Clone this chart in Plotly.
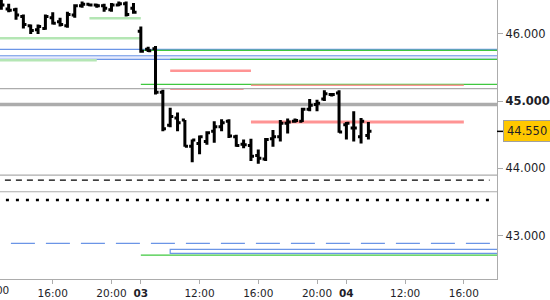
import pandas as pd
import plotly.graph_objects as go

# ---------------- data ----------------
sessions = [("2024-07-02 12:30", "2024-07-02 21:30"),
            ("2024-07-03 08:00", "2024-07-03 21:30"),
            ("2024-07-04 08:00", "2024-07-04 09:30")]
bar_time = []
for a, b in sessions:
    bar_time += list(pd.date_range(a, b, freq="30min"))

bar_open = [46.45, 46.37, 46.36, 46.26, 46.12, 46.06, 46.08, 46.24, 46.18, 46.12,
            46.28, 46.42, 46.44, 46.43, 46.42, 46.36, 46.43, 46.45, 46.38,
            46.04, 45.77, 45.78, 45.13, 44.64, 44.75, 44.72, 44.33, 44.37, 44.40,
            44.55, 44.62, 44.70, 44.47, 44.36, 44.34, 44.19, 44.14, 44.44, 44.47,
            44.67, 44.70, 44.70, 44.88, 44.95, 45.03, 45.10, 45.12,
            44.65, 44.60, 44.47, 44.49]
bar_high = [46.56, 46.45, 46.39, 46.29, 46.14, 46.14, 46.29, 46.32, 46.24, 46.33,
            46.44, 46.48, 46.45, 46.45, 46.45, 46.46, 46.48, 46.48, 46.46,
            46.11, 45.81, 45.82, 45.17, 44.90, 44.83, 44.72, 44.43, 44.49, 44.55,
            44.70, 44.73, 44.73, 44.50, 44.43, 44.44, 44.28, 44.45, 44.57, 44.72,
            44.74, 44.74, 44.90, 45.03, 45.02, 45.16, 45.12, 45.16,
            44.69, 44.85, 44.75, 44.69]
bar_low = [46.36, 46.32, 46.21, 46.08, 46.00, 46.00, 46.06, 46.14, 46.11, 46.09,
           46.24, 46.39, 46.41, 46.39, 46.33, 46.33, 46.41, 46.26, 46.30,
           45.72, 45.73, 45.10, 44.55, 44.61, 44.55, 44.32, 44.09, 44.21, 44.35,
           44.38, 44.55, 44.45, 44.32, 44.30, 44.11, 44.07, 44.11, 44.32, 44.40,
           44.52, 44.68, 44.69, 44.85, 44.85, 45.00, 45.07, 44.53,
           44.43, 44.40, 44.37, 44.43]
bar_close = [46.43, 46.35, 46.28, 46.14, 46.05, 46.11, 46.26, 46.16, 46.14, 46.29,
             46.42, 46.44, 46.43, 46.42, 46.38, 46.43, 46.45, 46.29, 46.32,
             45.74, 45.75, 45.13, 44.59, 44.77, 44.68, 44.33, 44.42, 44.47, 44.53,
             44.62, 44.68, 44.48, 44.34, 44.35, 44.18, 44.15, 44.43, 44.47, 44.67,
             44.69, 44.71, 44.88, 44.94, 44.97, 45.11, 45.10, 44.54,
             44.67, 44.60, 44.70, 44.55]
last_price = 44.550

LEFT, RIGHT = "2024-07-02 06:00", "2024-07-04 22:00"
level_price = [46.231, 45.934, 45.607, 45.770, 45.755, 45.622, 45.452, 45.250, 45.235,
               45.175, 45.187, 44.949, 44.689, 43.900, 43.826, 43.652, 43.529, 42.885, 42.710]
level_from = ["2024-07-02 18:30", LEFT, LEFT, LEFT, "2024-07-03 08:00", "2024-07-03 10:00",
              "2024-07-03 10:00", "2024-07-03 08:00", "2024-07-03 15:30", "2024-07-03 10:00",
              LEFT, LEFT, "2024-07-03 15:30", LEFT, LEFT, LEFT, LEFT, LEFT, "2024-07-03 08:00"]
level_to = ["2024-07-03 08:00", "2024-07-03 08:00", "2024-07-02 19:00", RIGHT, RIGHT, RIGHT,
            "2024-07-03 15:30", RIGHT, "2024-07-04 16:00", "2024-07-03 15:00", RIGHT, RIGHT,
            "2024-07-04 16:00", RIGHT, "2024-07-04 17:45", RIGHT, "2024-07-04 18:00", RIGHT, RIGHT]

zone_low = [45.622, 42.735]
zone_high = [45.675, 42.795]
zone_from = [LEFT, "2024-07-03 10:00"]
zone_to = [RIGHT, RIGHT]

tick_time = ["2024-07-02 16:00", "2024-07-02 20:00", "2024-07-03 08:00", "2024-07-03 12:00",
             "2024-07-03 16:00", "2024-07-03 20:00", "2024-07-04 08:00", "2024-07-04 12:00",
             "2024-07-04 16:00"]
tick_text = ["16:00", "20:00", "<b>03</b>", "12:00", "16:00", "20:00", "<b>04</b>", "12:00", "16:00"]
price_ticks = [43, 44, 45, 46]
price_text = ["43.000", "44.000", "<b>45.000</b>", "46.000"]

# ---------------- styles ----------------
LG, GR, BL, SA, GY, BK = "#b4e6b4", "#3fc83f", "#6b95e6", "#ff9494", "#acacac", "#000000"
level_style = [(LG, 2.5, "solid"), (LG, 2.5, "solid"), (LG, 2.5, "solid"), (BL, 1.2, "solid"),
               (GR, 1.2, "solid"), (GR, 1.2, "solid"), (SA, 2.5, "solid"), (GR, 1.2, "solid"),
               (SA, 1.5, "solid"), (SA, 1.5, "solid"), (GY, 1.2, "solid"), (GY, 3.5, "solid"),
               (SA, 3, "solid"), (GY, 1.2, "solid"), (BK, 1.2, "6px,5px"), (GY, 1.2, "solid"),
               (BK, 2.5, "3px,7px"), (BL, 1.2, "24px,11px"), (GR, 1.2, "solid")]
zone_style = [("rgba(215,222,250,0.6)", BL), ("rgba(255,255,255,1)", BL)]

fig = go.Figure()
fig.add_trace(go.Ohlc(
    x=bar_time, open=bar_open, high=bar_high, low=bar_low, close=bar_close,
    increasing=dict(line=dict(color="black", width=3)),
    decreasing=dict(line=dict(color="black", width=3)),
    tickwidth=0.42, hoverinfo="skip", showlegend=False))

shapes = []
for lo, hi, a, b, (fc, lc) in zip(zone_low, zone_high, zone_from, zone_to, zone_style):
    shapes.append(dict(type="rect", xref="x", yref="y", x0=a, x1=b, y0=lo, y1=hi,
                       fillcolor=fc, line=dict(color=lc, width=1.2), layer="below"))
for p, a, b, (c, w, d) in zip(level_price, level_from, level_to, level_style):
    shapes.append(dict(type="line", xref="x", yref="y", x0=a, x1=b, y0=p, y1=p,
                       line=dict(color=c, width=w, dash=d), layer="below"))
# last-price marker tick on the right axis
shapes.append(dict(type="line", xref="paper", yref="y", x0=1, x1=1.013,
                   y0=last_price, y1=last_price, line=dict(color="black", width=1.5)))

fig.update_layout(
    width=550, height=300, margin=dict(l=0, r=51, t=0, b=21),
    paper_bgcolor="white", plot_bgcolor="white", showlegend=False,
    font=dict(family="DejaVu Sans", size=11, color="#1e1e28"),
    shapes=shapes,
    xaxis=dict(type="date", range=["2024-07-02 12:24:30", "2024-07-04 18:15:30"],
               rangebreaks=[dict(bounds=[22, 8], pattern="hour")],
               rangeslider=dict(visible=False), showgrid=False, zeroline=False,
               showline=True, linecolor=GY, linewidth=1.2, mirror=False,
               ticks="outside", ticklen=4, tickcolor=GY,
               tickvals=tick_time, ticktext=tick_text, tickfont=dict(size=10.5)),
    yaxis=dict(side="right", range=[42.354, 46.504], showgrid=False, zeroline=False,
               showline=True, linecolor=GY, linewidth=1.2,
               ticks="outside", ticklen=5, tickcolor=GY,
               tickvals=price_ticks, ticktext=price_text, tickfont=dict(size=11.5)),
    annotations=[
        dict(xref="paper", yref="y", x=1, y=last_price, xanchor="left", yanchor="middle",
             xshift=6, text="44.550", showarrow=False, bgcolor="#ffc800",
             bordercolor="#a0a0a0", borderwidth=1, borderpad=3,
             font=dict(size=11.5, color="#1e1e28")),
        dict(xref="paper", yref="paper", x=-6 / 499, y=0, yshift=-11, xanchor="center",
             yanchor="middle", text="12:00", showarrow=False, font=dict(size=10.5)),
    ],
)
fig.write_html("out.html")
